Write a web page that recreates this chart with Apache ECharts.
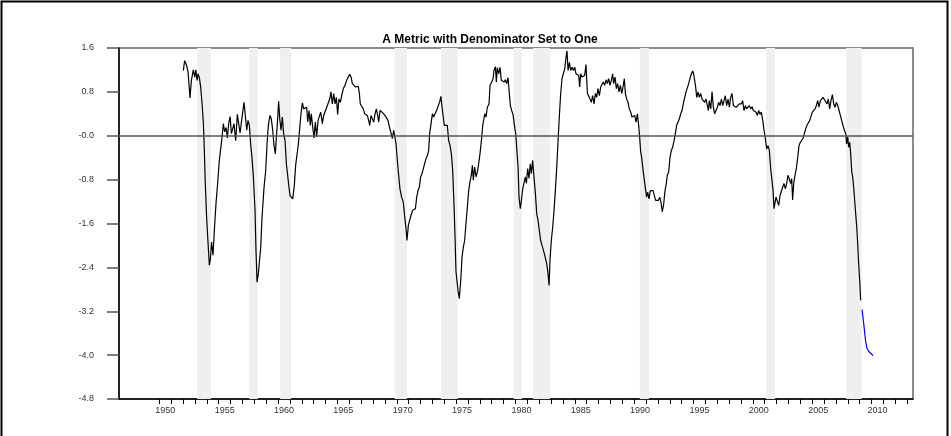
<!DOCTYPE html>
<html>
<head>
<meta charset="utf-8">
<title>A Metric with Denominator Set to One</title>
<script src="https://cdn.jsdelivr.net/npm/echarts@6.0.0/dist/echarts.min.js"></script>
<style>
  html, body { margin: 0; padding: 0; background: #fff; }
  #chart { width: 951px; height: 436px; }
</style>
</head>
<body>
<div id="chart"></div>
<script>
// metric readings (decimal year / value), black line
var metricYears = [
  1952.02,1952.13,1952.30,1952.42,1952.58,1952.70,1952.86,1952.98,1953.07,1953.18,1953.26,1953.37,1953.48,1953.60,1953.71,1953.79,1953.87,1953.98,
  1954.09,1954.21,1954.29,1954.40,1954.52,1954.63,1954.77,1954.91,1955.05,1955.14,1955.25,1955.39,1955.50,1955.62,1955.73,1955.84,1955.96,
  1956.07,1956.18,1956.29,1956.43,1956.57,1956.68,1956.80,1956.93,1957.13,1957.24,1957.36,1957.47,1957.58,1957.69,1957.80,1957.92,
  1958.06,1958.14,1958.23,1958.34,1958.42,1958.54,1958.65,1958.82,1958.96,1959.07,1959.18,1959.32,1959.43,1959.55,1959.66,1959.77,1959.86,1959.94,
  1960.05,1960.14,1960.25,1960.36,1960.47,1960.59,1960.70,1960.81,1960.92,
  1961.01,1961.23,1961.37,1961.48,1961.60,1961.71,1961.82,1961.93,1962.05,1962.16,1962.30,1962.41,1962.50,1962.61,1962.72,1962.80,1962.92,
  1963.03,1963.14,1963.25,1963.37,1963.48,1963.59,1963.73,1963.84,1963.98,1964.10,1964.24,1964.35,1964.46,1964.57,1964.69,1964.80,1964.91,
  1965.02,1965.13,1965.25,1965.36,1965.50,1965.64,1965.78,1965.92,1966.03,1966.15,1966.26,1966.37,1966.51,1966.62,1966.76,1966.85,1966.93,
  1967.04,1967.18,1967.30,1967.41,1967.52,1967.63,1967.72,1967.83,1967.94,1968.06,1968.17,1968.28,1968.39,1968.48,1968.59,1968.76,1968.93,
  1969.10,1969.26,1969.38,1969.52,1969.63,1969.74,1969.85,1969.94,1970.05,1970.16,1970.27,1970.41,1970.55,1970.67,1970.78,1970.86,1970.98,
  1971.09,1971.20,1971.34,1971.45,1971.57,1971.68,1971.79,1971.90,1972.01,1972.13,1972.24,1972.35,1972.46,1972.58,1972.69,1972.77,1972.89,
  1973.00,1973.11,1973.22,1973.36,1973.50,1973.62,1973.72,1973.80,1973.90,
  1974.01,1974.12,1974.26,1974.37,1974.49,1974.60,1974.71,1974.82,1974.91,1974.99,1975.08,1975.16,1975.27,1975.39,1975.50,1975.61,1975.72,1975.83,1975.95,
  1976.06,1976.17,1976.28,1976.37,1976.45,1976.56,1976.68,1976.79,1976.90,1977.01,1977.13,1977.24,1977.32,1977.41,1977.52,1977.63,1977.77,1977.86,
  1978.00,1978.11,1978.19,1978.31,1978.39,1978.47,1978.59,1978.70,1978.81,1978.92,1979.04,1979.15,1979.26,1979.37,1979.46,1979.57,1979.68,1979.79,1979.91,
  1980.02,1980.13,1980.22,1980.30,1980.41,1980.50,1980.61,1980.72,1980.83,1980.92,1981.03,1981.14,1981.25,1981.34,1981.45,1981.56,1981.68,1981.79,1981.90,
  1982.01,1982.12,1982.24,1982.35,1982.43,1982.55,1982.63,1982.74,1982.83,1982.91,1983.02,1983.14,1983.25,1983.36,1983.47,1983.59,1983.70,1983.81,1983.92,
  1984.03,1984.15,1984.26,1984.34,1984.43,1984.54,1984.65,1984.76,1984.88,1984.99,1985.10,1985.21,1985.33,1985.41,1985.49,1985.61,1985.72,1985.83,1985.94,
  1986.06,1986.22,1986.28,1986.39,1986.50,1986.62,1986.73,1986.84,1986.95,1987.07,1987.18,1987.29,1987.40,1987.52,1987.63,1987.74,1987.85,1987.96,
  1988.08,1988.19,1988.27,1988.39,1988.50,1988.61,1988.72,1988.84,1988.95,1989.06,1989.17,1989.26,1989.37,1989.48,1989.59,1989.71,1989.82,1989.93,
  1990.04,1990.16,1990.27,1990.38,1990.46,1990.55,1990.63,1990.75,1990.86,1990.97,1991.05,1991.14,1991.25,1991.36,1991.48,1991.59,1991.70,1991.81,1991.92,
  1992.04,1992.15,1992.26,1992.37,1992.49,1992.60,1992.71,1992.79,1992.91,1993.02,1993.13,1993.24,1993.36,1993.47,1993.58,1993.69,1993.81,1993.92,
  1994.03,1994.14,1994.26,1994.37,1994.48,1994.59,1994.70,1994.82,1994.93,1995.01,1995.10,1995.18,1995.27,1995.38,1995.49,1995.60,1995.72,1995.83,1995.94,
  1996.05,1996.17,1996.25,1996.33,1996.45,1996.56,1996.67,1996.78,1996.90,1997.01,1997.12,1997.23,1997.35,1997.46,1997.57,1997.68,1997.79,1997.91,
  1998.02,1998.13,1998.24,1998.36,1998.47,1998.58,1998.69,1998.86,1998.92,1999.03,1999.14,1999.25,1999.37,1999.48,1999.59,1999.70,1999.82,1999.93,
  2000.04,2000.15,2000.27,2000.38,2000.49,2000.60,2000.71,2000.83,2000.94,2001.05,2001.16,2001.28,2001.39,2001.50,2001.61,2001.70,2001.78,2001.87,2001.95,
  2002.06,2002.18,2002.29,2002.40,2002.51,2002.62,2002.74,2002.85,2002.96,2003.07,2003.19,2003.27,2003.35,2003.44,2003.55,2003.66,2003.78,2003.89,
  2004.00,2004.11,2004.22,2004.34,2004.45,2004.56,2004.67,2004.79,2004.90,2005.01,2005.12,2005.24,2005.35,2005.46,2005.57,2005.69,2005.80,2005.91,
  2006.02,2006.13,2006.25,2006.36,2006.47,2006.58,2006.70,2006.81,2006.92,2007.03,2007.15,2007.26,2007.37,2007.48,2007.59,2007.71,2007.82,2007.90,2007.99,
  2008.07,2008.16,2008.24,2008.33,2008.41,2008.49,2008.58,2008.66,2008.75,2008.83,2008.91,2009.00,2009.08
];
var metricValues = [
  1.19,1.37,1.28,1.16,0.69,1.01,1.20,1.07,1.20,1.01,1.13,1.06,0.89,0.58,0.22,-0.27,-0.87,-1.48,
  -1.91,-2.36,-2.27,-1.94,-2.18,-1.73,-1.24,-0.87,-0.45,-0.48,-0.09,0.22,0.07,0.15,-0.04,0.22,0.35,
  0.04,0.13,0.22,-0.09,0.39,0.40,0.05,0.28,0.61,0.37,0.10,0.28,0.19,-0.15,-0.39,-0.75,
  -1.36,-2.09,-2.67,-2.51,-2.51,-2.03,-1.48,-0.94,-0.63,-0.15,0.19,0.37,0.31,0.10,-0.18,-0.33,-0.02,0.22,
  0.63,0.31,0.10,0.34,0.04,-0.09,-0.51,-0.54,-0.94,
  -1.09,-1.15,-0.91,-0.54,-0.51,-0.15,0.13,0.40,0.60,0.49,0.52,0.52,0.25,0.46,0.19,0.40,0.16,
  -0.04,0.25,-0.02,0.28,0.31,0.43,0.22,0.37,0.40,0.52,0.55,0.67,0.80,0.58,0.77,0.58,0.70,
  0.39,0.67,0.61,0.73,0.86,0.92,1.01,1.04,1.12,1.07,0.95,0.92,0.89,0.92,0.90,0.77,0.58,
  0.55,0.49,0.40,0.43,0.37,0.28,0.19,0.37,0.31,0.25,0.40,0.49,0.37,0.25,0.46,0.43,0.39,
  0.34,0.28,0.16,0.13,-0.05,0.10,0.13,-0.15,-0.45,-0.72,-0.97,-1.12,-1.21,-1.48,-1.69,-1.91,-1.63,
  -1.60,-1.45,-1.36,-1.39,-1.33,-1.12,-1.00,-0.94,-0.75,-0.69,-0.60,-0.51,-0.42,-0.36,-0.27,0.04,0.22,
  0.40,0.34,0.40,0.46,0.55,0.62,0.72,0.55,0.37,
  0.19,0.22,0.19,-0.09,-0.18,-0.33,-0.63,-1.24,-1.85,-2.48,-2.45,-2.82,-2.97,-2.64,-2.21,-2.03,-1.91,-1.60,-1.30,
  -1.00,-0.84,-0.72,-0.54,-0.81,-0.57,-0.75,-0.66,-0.51,-0.33,-0.09,0.19,0.28,0.40,0.34,0.52,0.58,0.92,
  0.98,1.04,1.19,1.26,0.98,1.24,1.13,1.25,1.01,1.02,0.98,1.02,0.95,1.06,0.83,0.55,0.46,0.39,0.19,
  0.04,0.01,-0.57,-1.12,-1.33,-1.18,-0.97,-0.94,-0.75,-0.87,-0.60,-0.78,-0.51,-0.69,-0.45,-0.75,-1.06,-1.42,-1.54,
  -1.73,-1.91,-2.00,-2.03,-2.15,-2.12,-2.33,-2.51,-2.73,-2.27,-1.91,-1.66,-1.36,-1.00,-0.60,-0.09,0.37,0.77,1.04,
  1.13,1.22,1.43,1.55,1.19,1.34,1.19,1.25,1.19,1.25,1.13,1.16,1.10,0.89,1.13,1.07,1.10,1.10,1.30,
  0.77,0.70,0.70,0.61,0.73,0.58,0.77,0.70,0.86,0.73,0.89,0.92,0.98,0.92,1.02,0.95,1.04,0.92,
  1.01,1.13,0.95,1.07,0.86,0.95,0.80,0.92,0.77,0.89,1.04,0.77,0.67,0.61,0.49,0.43,0.34,0.31,
  0.37,0.25,0.40,0.19,-0.02,-0.30,-0.39,-0.63,-0.81,-1.00,-1.12,-1.03,-1.15,-1.00,-1.03,-1.00,-1.03,-1.18,-1.21,
  -1.18,-1.12,-1.21,-1.39,-1.24,-1.00,-0.87,-0.72,-0.66,-0.39,-0.27,-0.21,-0.09,0.04,0.19,0.22,0.31,0.40,
  0.46,0.58,0.70,0.80,0.83,0.95,1.04,1.13,1.18,1.13,1.16,0.89,0.70,0.80,0.70,0.77,0.67,0.70,0.61,
  0.67,0.55,0.46,0.64,0.49,0.80,0.52,0.40,0.43,0.52,0.61,0.55,0.67,0.55,0.64,0.73,0.55,0.67,
  0.52,0.70,0.77,0.55,0.58,0.52,0.55,0.58,0.61,0.58,0.64,0.46,0.55,0.49,0.52,0.55,0.49,0.53,
  0.46,0.49,0.43,0.37,0.46,0.39,0.43,0.28,0.10,-0.05,-0.24,-0.18,-0.27,-0.60,-0.63,-1.00,-1.33,-1.36,-1.12,
  -1.12,-1.27,-1.09,-1.06,-0.94,-0.87,-0.97,-0.87,-0.72,-0.75,-0.87,-0.78,-1.17,-0.87,-0.72,-0.60,-0.39,-0.18,
  -0.12,-0.09,-0.05,0.04,0.13,0.19,0.19,0.28,0.28,0.43,0.40,0.49,0.55,0.64,0.52,0.64,0.61,0.70,
  0.66,0.69,0.58,0.67,0.49,0.64,0.75,0.58,0.52,0.61,0.55,0.46,0.37,0.28,0.19,0.10,0.04,-0.15,-0.02,
  -0.21,-0.12,-0.33,-0.66,-0.75,-0.94,-1.18,-1.42,-1.66,-1.97,-2.33,-2.64,-3.00
];
// latest readings, drawn in blue
var latestYears = [2009.20, 2009.35, 2009.50, 2009.62, 2009.75, 2009.95, 2010.13];
var latestValues = [-3.17, -3.45, -3.75, -3.88, -3.93, -3.97, -4.01];

// shaded recession periods
var recessionStart = [1953.18, 1957.57, 1960.18, 1969.83, 1973.72, 1979.85, 1981.48, 1990.48, 2001.10, 2007.85];
var recessionEnd   = [1954.35, 1958.29, 1961.10, 1970.85, 1975.14, 1980.56, 1982.90, 1991.24, 2001.87, 2009.17];

// axis ticks
var labelYears = [1950, 1955, 1960, 1965, 1970, 1975, 1980, 1985, 1990, 1995, 2000, 2005, 2010];
var firstTickYear = 1950, lastTickYear = 2013;
var yMin = -4.8, yMax = 1.6, yStep = 0.8;

var tickYears = [];
for (var t = firstTickYear; t <= lastTickYear; t++) tickYears.push(t);

var chart = echarts.init(document.getElementById('chart'), null, { renderer: 'canvas' });

var lineData = metricYears.map(function (y, i) { return [y, metricValues[i]]; });
var latestData = latestYears.map(function (y, i) { return [y, latestValues[i]]; });
var bands = recessionStart.map(function (s, i) {
  return [{ xAxis: s }, { xAxis: recessionEnd[i] }];
});

var font = 'Liberation Sans, Arial, Helvetica, sans-serif';

chart.setOption({
  animation: false,
  backgroundColor: '#fff',
  title: {
    text: 'A Metric with Denominator Set to One',
    left: 485,
    top: 29,
    textAlign: 'center',
    textStyle: { fontFamily: font, fontSize: 12, fontWeight: 'bold', color: '#000' }
  },
  graphic: [{
    type: 'rect',
    shape: { x: 1.5, y: 1.5, width: 946, height: 460 },
    style: { fill: 'none', stroke: '#000', lineWidth: 2 },
    silent: true
  }],
  grid: {
    left: 119, right: 38, top: 48, bottom: 37,
    show: true, borderColor: '#666', borderWidth: 1.5,
    outerBoundsMode: 'none'
  },
  xAxis: {
    type: 'value',
    min: 1946.6,
    max: 2013.49,
    splitLine: { show: false },
    axisLine: { show: true, onZero: false, lineStyle: { color: '#000', width: 1.5 } },
    axisTick: {
      show: true, length: 5, inside: false,
      customValues: tickYears,
      lineStyle: { color: '#000', width: 1 }
    },
    axisLabel: {
      customValues: labelYears.map(function (y) { return y + 0.5; }),
      formatter: function (v) { return String(Math.floor(v)); },
      margin: 7,
      fontFamily: font, fontSize: 9, color: '#333'
    }
  },
  yAxis: {
    type: 'value',
    min: yMin, max: yMax, interval: yStep,
    splitLine: { show: false },
    axisLine: { show: true, onZero: false, lineStyle: { color: '#000', width: 1.5 } },
    axisTick: { show: true, length: 12, inside: false, lineStyle: { color: '#555', width: 1.5 } },
    axisLabel: {
      margin: 25,
      fontFamily: font, fontSize: 9, color: '#333',
      formatter: function (v) {
        if (Math.abs(v) < 1e-9) return '-0.0';
        return v.toFixed(1);
      }
    }
  },
  series: [
    {
      name: 'metric',
      type: 'line',
      data: lineData,
      showSymbol: false,
      lineStyle: { color: '#000', width: 1.2 },
      z: 3,
      markArea: {
        silent: true,
        itemStyle: { color: '#efefef' },
        data: bands
      },
      markLine: {
        silent: true,
        symbol: 'none',
        label: { show: false },
        lineStyle: { color: '#555', width: 1.5, type: 'solid' },
        data: [{ yAxis: 0 }]
      }
    },
    {
      name: 'latest',
      type: 'line',
      data: latestData,
      showSymbol: false,
      lineStyle: { color: '#0000ff', width: 1.2 },
      z: 3
    }
  ]
});
</script>
</body>
</html>
